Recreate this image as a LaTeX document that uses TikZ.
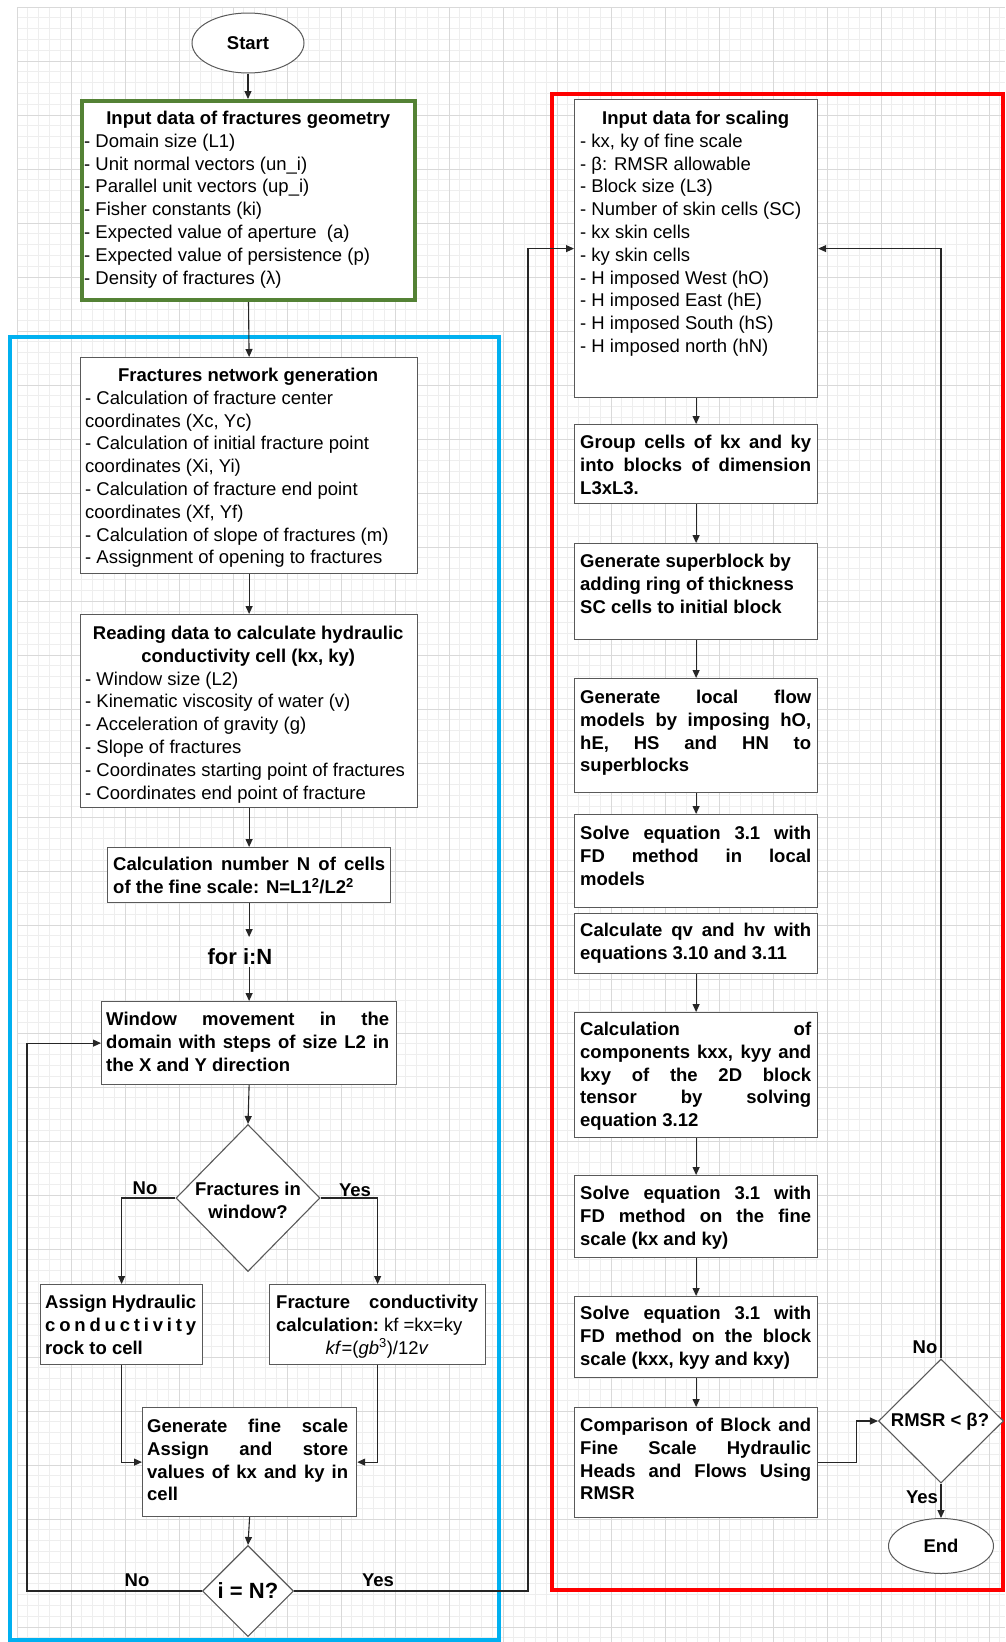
\documentclass[tikz,border=0pt]{standalone}
\usepackage{fontspec}
\setmainfont{Liberation Sans}
\usetikzlibrary{arrows.meta,shapes.geometric}
\definecolor{edge}{HTML}{595959}
\definecolor{grn}{HTML}{548235}
\definecolor{blu}{HTML}{00B0F0}
\definecolor{gridmin}{HTML}{EEEEEE}
\definecolor{gridmaj}{HTML}{D9D9D9}
\newcommand\jusline[1]{{\spaceskip=0.278em plus 1fil minus 0.1em\relax\makebox[\linewidth][s]{#1}}}
\newcommand\ctrline[1]{\makebox[\linewidth]{#1}}
\newcommand\plainln[1]{\mbox{#1}}
\newcommand\myfs{\fontsize{18.5}{22.8}\selectfont}
\begin{document}
\begin{tikzpicture}[x=1pt,y=-1pt,
  box/.style={draw=edge, line width=1.2pt, fill=white, inner sep=0pt, anchor=north west},
  txt/.style={inner sep=0pt, anchor=base west, font=\myfs, align=flush left},
  btxt/.style={txt, font=\myfs\bfseries},
  arr/.style={-{Triangle[length=8pt,width=7pt]}, line width=1.1pt, draw=black!85},
  lab/.style={font=\myfs\bfseries, inner sep=0pt},
  dia/.style={diamond, draw=edge, line width=1.1pt, fill=white, inner sep=0pt},
  term/.style={ellipse, draw=edge, line width=1pt, fill=white, inner sep=0pt, font=\myfs\bfseries}]

\useasboundingbox (0,0) rectangle (1005,1642);
\fill[white] (0,0) rectangle (1005,1642);
% grid
\foreach \i in {0,...,91} {\draw[gridmin, line width=0.8pt] ({17+10.8*\i},7) -- ({17+10.8*\i},1642);}
\foreach \j in {0,...,151} {\draw[gridmin, line width=0.8pt] (17,{7+10.8*\j}) -- (1005,{7+10.8*\j});}
\foreach \i in {0,...,18} {\draw[gridmaj, line width=0.9pt] ({17+54*\i},7) -- ({17+54*\i},1642);}
\foreach \j in {0,...,30} {\draw[gridmaj, line width=0.9pt] (17,{7+54*\j}) -- (1005,{7+54*\j});}

% frames
\draw[blu, line width=4pt] (9.5,337) rectangle (498.5,1640);
\draw[red, line width=4pt] (551.5,94) rectangle (1003,1590);

% terminals
\node[term, minimum width=112pt, minimum height=60pt] (start) at (248,43) {Start};
\node[term, minimum width=105pt, minimum height=55pt] (end) at (941,1546) {End};

% left column boxes
\node[box, draw=grn, line width=4pt, minimum width=333pt, minimum height=199pt] (in1) at (80,99) {};
\node[box, minimum width=337pt, minimum height=216pt] (fng) at (80,357) {};
\node[box, minimum width=337pt, minimum height=193pt] (rd) at (80,614) {};
\node[box, minimum width=283pt, minimum height=55pt] (cn) at (107,847) {};
\node[box, minimum width=295pt, minimum height=83pt] (win) at (101,1001) {};
\node[box, minimum width=162pt, minimum height=80pt] (ah) at (40,1284) {};
\node[box, minimum width=216pt, minimum height=80pt] (fc) at (269,1284) {};
\node[box, minimum width=214pt, minimum height=109pt] (gfs) at (142,1407) {};

% right column boxes
\node[box, minimum width=243pt, minimum height=298pt] (isc) at (574,99) {};
\node[box, minimum width=243pt, minimum height=79pt] (grp) at (574,424) {};
\node[box, minimum width=243pt, minimum height=96pt] (sb) at (574,543) {};
\node[box, minimum width=243pt, minimum height=114pt] (lf) at (574,678) {};
\node[box, minimum width=243pt, minimum height=93pt] (sl) at (574,814) {};
\node[box, minimum width=243pt, minimum height=60pt] (cq) at (574,913) {};
\node[box, minimum width=243pt, minimum height=125pt] (cc) at (574,1012) {};
\node[box, minimum width=243pt, minimum height=82pt] (sf) at (574,1175) {};
\node[box, minimum width=243pt, minimum height=81pt] (sbk) at (574,1296) {};
\node[box, minimum width=243pt, minimum height=110pt] (cmp) at (574,1407) {};

% diamonds
\node[dia, minimum width=144pt, minimum height=147pt] (dec1) at (248,1198) {};
\node[dia, minimum width=91pt, minimum height=91pt] (dec2) at (248,1591) {};
\node[dia, minimum width=125pt, minimum height=124pt] (dec3) at (941,1421) {};

% texts left column
\node[txt, text width=328pt] (in1t) at (84,124.5) {\ctrline{\bfseries Input data of fractures geometry}\\
\plainln{- Domain size (L1)}\\
\plainln{- Unit normal vectors (un\_i)}\\
\plainln{- Parallel unit vectors (up\_i)}\\
\plainln{- Fisher constants (ki)}\\
\plainln{- Expected value of aperture\ \ (a)}\\
\plainln{- Expected value of persistence (p)}\\
\plainln{- Density of fractures (λ)}};

\node[txt, text width=326pt] (fngt) at (85,381.5) {\ctrline{\bfseries Fractures network generation}\\
\plainln{- Calculation of fracture center}\\
\plainln{coordinates (Xc, Yc)}\\
\plainln{- Calculation of initial fracture point}\\
\plainln{coordinates (Xi, Yi)}\\
\plainln{- Calculation of fracture end point}\\
\plainln{coordinates (Xf, Yf)}\\
\plainln{- Calculation of slope of fractures (m)}\\
\plainln{- Assignment of opening to fractures}};

\node[txt, text width=326pt] (rdt) at (85,639.5) {\ctrline{\bfseries Reading data to calculate hydraulic}\\
\ctrline{\bfseries conductivity cell (kx, ky)}\\
\plainln{- Window size (L2)}\\
\plainln{- Kinematic viscosity of water (v)}\\
\plainln{- Acceleration of gravity (g)}\\
\plainln{- Slope of fractures}\\
\plainln{- Coordinates starting point of fractures}\\
\plainln{- Coordinates end point of fracture}};

\node[btxt, text width=272pt] (cnt) at (113,870.5) {\jusline{Calculation number N of cells}\\
\plainln{of the fine scale: N=L1\textsuperscript{2}/L2\textsuperscript{2}}};

\node[font=\fontsize{22}{26}\selectfont\bfseries, inner sep=0pt, text height=27pt, text depth=3pt, anchor=north] (fori) at (240,937) {for i:N};

\node[btxt, text width=283pt] (wint) at (106,1025.5) {\jusline{Window movement in the}\\
\jusline{domain with steps of size L2 in}\\
\plainln{the X and Y direction}};

\node[lab, align=center] (dec1t) at (248,1200) {Fractures in\\window?};

\node[btxt, text width=151pt] (aht) at (45,1308.5) {\jusline{Assign Hydraulic}\\
\makebox[\linewidth]{c\hfill o\hfill n\hfill d\hfill u\hfill c\hfill t\hfill i\hfill v\hfill i\hfill t\hfill y}\\
\plainln{rock to cell}};

\node[txt, text width=202pt] (fct) at (276,1308.5) {\jusline{\bfseries Fracture conductivity}\\
\plainln{\bfseries calculation:\mdseries\ kf =kx=ky}\\
\ctrline{\textit{kf}=(\textit{gb}\textsuperscript{3})/12\textit{v}}};

\node[btxt, text width=201pt] (gfst) at (147,1432.5) {\jusline{Generate fine scale}\\
\jusline{Assign and store}\\
\jusline{values of kx and ky in}\\
\plainln{cell}};

\node[lab, font=\fontsize{22}{26}\selectfont\bfseries] (dec2t) at (248,1591) {i = N?};

% texts right column
\node[txt, text width=231pt] (isct) at (580,124.5) {\ctrline{\bfseries Input data for scaling}\\
\plainln{- kx, ky of fine scale}\\
\plainln{- β: RMSR allowable}\\
\plainln{- Block size (L3)}\\
\plainln{- Number of skin cells (SC)}\\
\plainln{- kx skin cells}\\
\plainln{- ky skin cells}\\
\plainln{- H imposed West (hO)}\\
\plainln{- H imposed East (hE)}\\
\plainln{- H imposed South (hS)}\\
\plainln{- H imposed north (hN)}};

\node[btxt, text width=231pt] (grpt) at (580,448.5) {\jusline{Group cells of kx and ky}\\
\jusline{into blocks of dimension}\\
\plainln{L3xL3.}};

\node[btxt, text width=231pt] (sbt) at (580,567.5) {\plainln{Generate superblock by}\\
\plainln{adding ring of thickness}\\
\plainln{SC cells to initial block}};

\node[btxt, text width=231pt] (lft) at (580,703.5) {\jusline{Generate local flow}\\
\jusline{models by imposing hO,}\\
\jusline{hE, HS and HN to}\\
\plainln{superblocks}};

\node[btxt, text width=231pt] (slt) at (580,839.5) {\jusline{Solve equation 3.1 with}\\
\jusline{FD method in local}\\
\plainln{models}};

\node[btxt, text width=231pt] (cqt) at (580,936.5) {\jusline{Calculate qv and hv with}\\
\plainln{equations 3.10 and 3.11}};

\node[btxt, text width=231pt] (cct) at (580,1035.5) {\jusline{Calculation of}\\
\jusline{components kxx, kyy and}\\
\jusline{kxy of the 2D block}\\
\jusline{tensor by solving}\\
\plainln{equation 3.12}};

\node[btxt, text width=231pt] (sft) at (580,1199.5) {\jusline{Solve equation 3.1 with}\\
\jusline{FD method on the fine}\\
\plainln{scale (kx and ky)}};

\node[btxt, text width=231pt] (sbkt) at (580,1319.5) {\jusline{Solve equation 3.1 with}\\
\jusline{FD method on the block}\\
\plainln{scale (kxx, kyy and kxy)}};

\node[btxt, text width=231pt] (cmpt) at (580,1431.5) {\jusline{Comparison of Block and}\\
\jusline{Fine Scale Hydraulic}\\
\jusline{Heads and Flows Using}\\
\plainln{RMSR}};

\node[lab] (dec3t) at (940,1422) {RMSR < β?};

% branch labels
\node[lab] (no1) at (145,1188) {No};
\node[lab] (yes1) at (355,1190) {Yes};
\node[lab] (no2) at (137,1580) {No};
\node[lab] (yes2) at (378,1580) {Yes};
\node[lab] (no3) at (925,1347) {No};
\node[lab] (yes3) at (922,1497) {Yes};

% connectors
\coordinate (lpA) at (27,1591);
\coordinate (lpB) at (528,1591);
\draw[arr] (start.south) -- (start.south |- in1.north);
\draw[arr] (in1.south) -- (fng.north);
\draw[arr] (fng.south) -- (rd.north);
\draw[arr] (rd.south) -- (cn.north);
\draw[arr] (cn.south) -- (cn.south |- fori.north);
\draw[arr] (fori.south -| win.north) -- (win.north);
\draw[arr] (win.south) -- (dec1.north);
\draw[arr] (dec1.west) -| (ah.north);
\draw[arr] (dec1.east) -| (fc.north);
\draw[arr] (ah.south) |- (gfs.west);
\draw[arr] (fc.south) |- (gfs.east);
\draw[arr] (gfs.south) -- (dec2.north);
\draw[arr] (dec2.west) -- (lpA) |- (win.west);
\draw[arr] (dec2.east) -- (lpB) |- (isc.west);
\draw[arr] (isc.south) -- (grp.north);
\draw[arr] (grp.south) -- (sb.north);
\draw[arr] (sb.south) -- (lf.north);
\draw[arr] (lf.south) -- (sl.north);
\draw[arr] (cq.south) -- (cc.north);
\draw[arr] (cc.south) -- (sf.north);
\draw[arr] (sf.south) -- (sbk.north);
\draw[arr] (sbk.south) -- (cmp.north);
\draw[arr] (cmp.east) -- ++(38,0) |- (dec3.west);
\draw[arr] (dec3.north) |- (isc.east);
\draw[arr] (dec3.south) -- (end.north);
\end{tikzpicture}
\end{document}
